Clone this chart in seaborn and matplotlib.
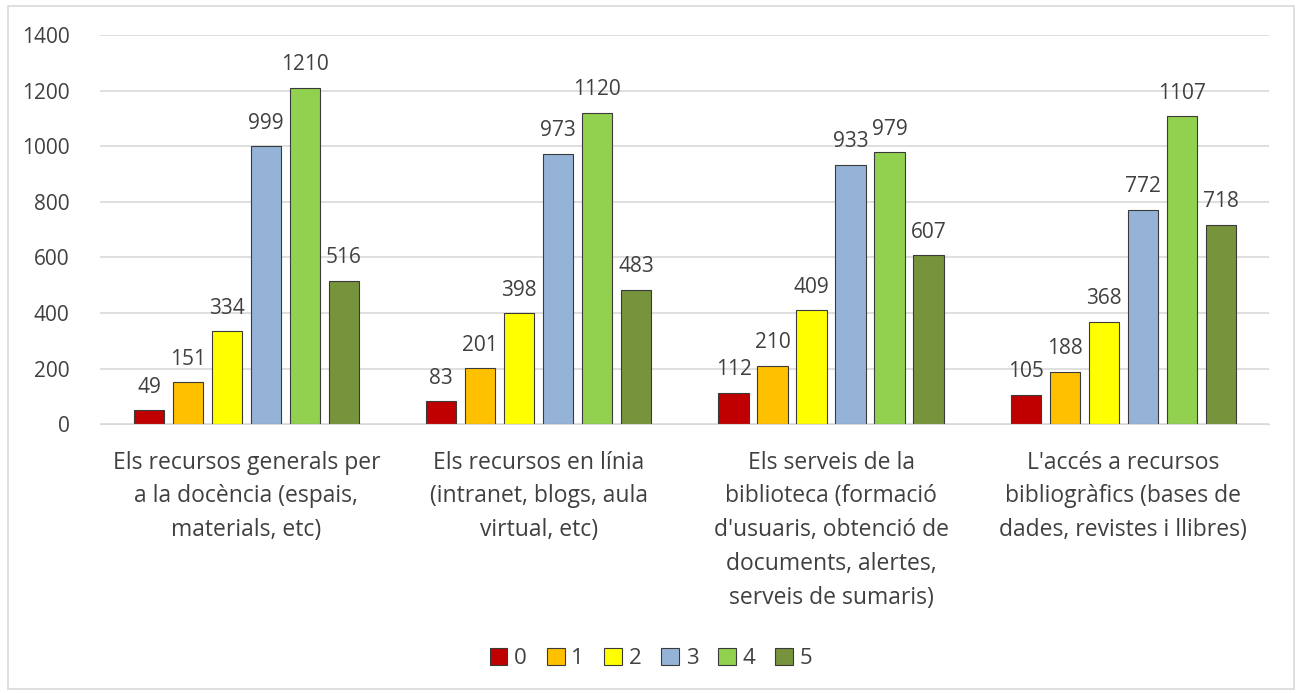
import pandas as pd
import seaborn as sns
import matplotlib.pyplot as plt
from matplotlib.patches import Rectangle

categories = [
    "Els recursos generals per\na la docència (espais,\nmaterials, etc)",
    "Els recursos en línia\n(intranet, blogs, aula\nvirtual, etc)",
    "Els serveis de la\nbiblioteca (formació\nd'usuaris, obtenció de\ndocuments, alertes,\nserveis de sumaris)",
    "L'accés a recursos\nbibliogràfics (bases de\ndades, revistes i llibres)",
]
scores = ["0", "1", "2", "3", "4", "5"]
values = {
    "0": [49, 83, 112, 105],
    "1": [151, 201, 210, 188],
    "2": [334, 398, 409, 368],
    "3": [999, 973, 933, 772],
    "4": [1210, 1120, 979, 1107],
    "5": [516, 483, 607, 718],
}
colors = ["#C00000", "#FFC000", "#FFFF00", "#95B3D7", "#92D050", "#77933C"]

rows = []
for s in scores:
    for c, v in zip(categories, values[s]):
        rows.append({"cat": c, "score": s, "n": v})
df = pd.DataFrame(rows)

sns.set_style("white")
plt.rcParams["font.family"] = ["Open Sans", "DejaVu Sans"]
text_col = "#404040"

fig = plt.figure(figsize=(13.02, 6.93), dpi=100)
ax = fig.add_axes([0.077, 0.388, 0.898, 0.5615])

sns.barplot(data=df, x="cat", y="n", hue="score", hue_order=scores,
            palette=colors, saturation=1, width=0.8, gap=0.22, ax=ax,
            edgecolor="#3a3a3a", linewidth=0.8, legend=True)

for cont in ax.containers:
    ax.bar_label(cont, padding=9, fontsize=15, color=text_col)

ax.set_ylim(0, 1400)
ax.set_yticks(range(0, 1401, 200))
ax.yaxis.grid(True, color="#D9D9D9", linewidth=1.2)
ax.set_axisbelow(True)
for sp in ["top", "right", "left"]:
    ax.spines[sp].set_visible(False)
ax.spines["bottom"].set_color("#D9D9D9")
ax.tick_params(axis="both", length=0, labelsize=15, colors=text_col)
ax.tick_params(axis="y", pad=22)
ax.tick_params(axis="x", pad=19)
ax.set_xlabel("")
ax.set_ylabel("")
for lbl in ax.get_xticklabels():
    lbl.set_linespacing(1.55)
    lbl.set_fontsize(16.5)

leg = ax.legend(loc="center", bbox_to_anchor=(0.5, 0.05),
                bbox_transform=fig.transFigure, ncol=6, frameon=False,
                fontsize=16, handlelength=0.8, handleheight=0.8,
                handletextpad=0.3, columnspacing=0.9)
for t in leg.get_texts():
    t.set_color(text_col)

fig.patches.append(Rectangle((0.006, 0.006), 0.988, 0.985, transform=fig.transFigure,
                             fill=False, edgecolor="#D9D9D9", linewidth=1.2))

fig.savefig("out.png", dpi=100)
